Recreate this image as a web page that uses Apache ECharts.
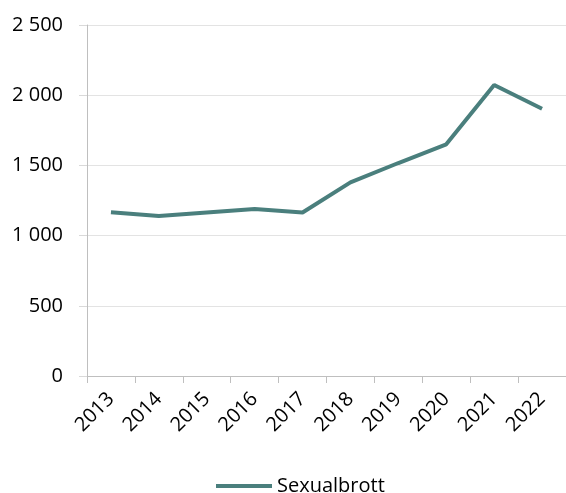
<!DOCTYPE html>
<html>
<head>
<meta charset="utf-8">
<script src="https://cdn.jsdelivr.net/npm/echarts@6/dist/echarts.min.js"></script>
<style>
html,body{margin:0;padding:0;background:#fff;}
#main{width:566px;height:493px;}
</style>
</head>
<body>
<div id="main"></div>
<script>
var years = ['2013','2014','2015','2016','2017','2018','2019','2020','2021','2022'];
var sexualbrott = [1167,1139,1164,1189,1165,1379,1517,1650,2073,1904];
var seriesName = 'Sexualbrott';

var myChart = echarts.init(document.getElementById('main'));
var font = '"Open Sans", sans-serif';
var option = {
    animation: false,
    grid: {left: 87, top: 25, right: -2, bottom: 117, containLabel: false},
    legend: {
        bottom: -8,
        left: 211,
        icon: 'rect',
        itemWidth: 56,
        itemHeight: 4,
        itemGap: 5,
        textStyle: {fontFamily: font, fontSize: 20, color: '#000'},
        data: [seriesName]
    },
    xAxis: {
        type: 'category',
        data: years,
        boundaryGap: true,
        axisLine: {lineStyle: {color: '#bfbfbf', width: 1}},
        axisTick: {show: true, length: 7, lineStyle: {color: '#bfbfbf'}},
        axisLabel: {interval: 0, rotate: 45, margin: 20, fontFamily: font, fontSize: 20, color: '#000'}
    },
    yAxis: {
        type: 'value',
        min: 0,
        max: 2500,
        interval: 500,
        axisLine: {show: true, lineStyle: {color: '#bfbfbf', width: 1}},
        axisTick: {show: true, length: 8, lineStyle: {color: '#d9d9d9'}},
        splitLine: {lineStyle: {color: '#e3e3e3', width: 1}},
        axisLabel: {
            margin: 24,
            fontFamily: font,
            fontSize: 20,
            color: '#000',
            formatter: function (v) { return String(v).replace(/\B(?=(\d{3})+(?!\d))/g, ' '); }
        }
    },
    series: [{
        name: seriesName,
        type: 'line',
        data: sexualbrott,
        symbol: 'none',
        color: '#4a7f7d',
        lineStyle: {width: 4, color: '#4a7f7d'}
    }]
};
myChart.setOption(option);
</script>
</body>
</html>
